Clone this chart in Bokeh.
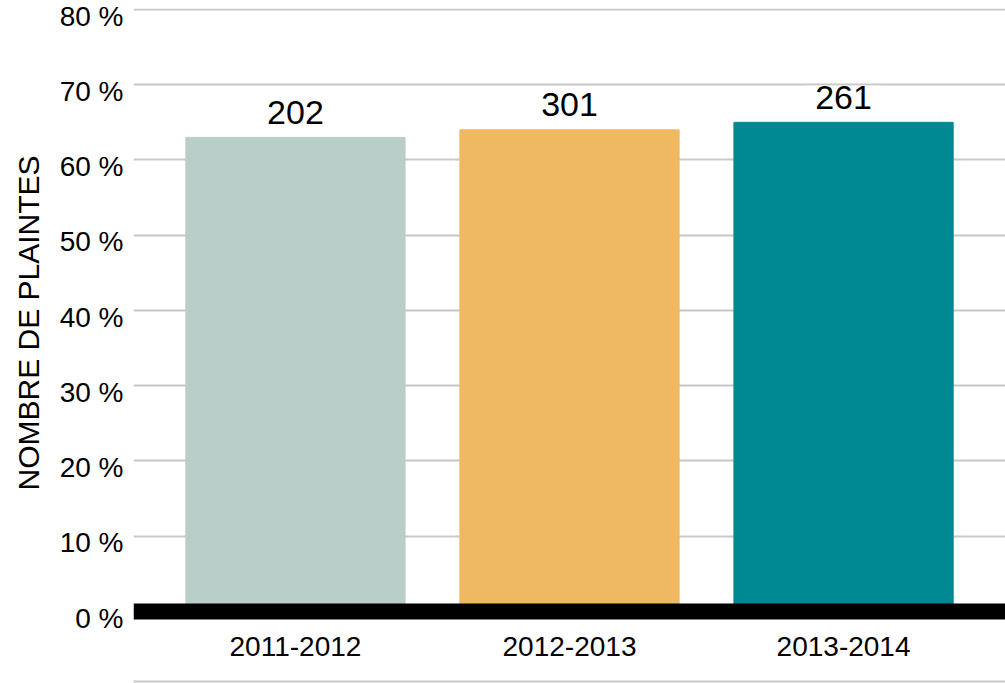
from bokeh.plotting import figure
from bokeh.models import (ColumnDataSource, Range1d, LinearAxis, FixedTicker, Grid,
                          Span, Title, PrintfTickFormatter)
from bokeh.core.properties import value
from bokeh.embed import file_html
from bokeh.resources import INLINE

# ---- data ----
periods = ["2011-2012", "2012-2013", "2013-2014"]
pct_values = [63, 64, 65]
complaints = [202, 301, 261]
bar_colors = ["#B9CDC9", "#EFB961", "#008893"]
y_ticks = [0, 10, 20, 30, 40, 50, 60, 70, 80]
axis_title = "NOMBRE DE PLAINTES"

FONT = "Liberation Sans"
GRID = "#c8c8c8"

idx = list(range(len(periods)))
x0, x1 = -0.591, 2.591
y0, y1 = -9.32, 80.13
label_shift = 0.9
cat_label_y = -4.7

src = ColumnDataSource(dict(
    x=idx, top=pct_values, color=bar_colors,
    count=[str(c) for c in complaints], period=periods,
    lab_y=[cat_label_y] * len(periods),
))

p = figure(width=1005, height=683, x_range=Range1d(x0, x1), y_range=Range1d(y0, y1),
           x_axis_location=None, y_axis_location=None,
           toolbar_location=None, output_backend="svg",
           min_border_left=133, min_border_right=0, min_border_top=8, min_border_bottom=2)
p.center = []
p.outline_line_color = None
p.background_fill_color = "white"
p.border_fill_color = "white"

# horizontal grid
p.add_layout(Grid(dimension=1, ticker=FixedTicker(ticks=y_ticks),
                  grid_line_color=GRID, grid_line_width=2))

# y axis (labels drawn slightly below their gridline)
p.extra_y_ranges = {"lab": Range1d(y0 + label_shift, y1 + label_shift)}
yax = LinearAxis(y_range_name="lab", ticker=FixedTicker(ticks=y_ticks),
                 formatter=PrintfTickFormatter(format="%d %%"),
                 axis_line_color=None, major_tick_line_color=None,
                 minor_tick_line_color=None, major_tick_out=0, major_tick_in=0,
                 major_label_standoff=10,
                 major_label_text_font=FONT, major_label_text_font_size="28px",
                 major_label_text_color="black")
p.add_layout(yax, "left")

# bottom rule
xax = LinearAxis(ticker=FixedTicker(ticks=[]), axis_line_color=GRID, axis_line_width=2,
                 major_tick_line_color=None, minor_tick_line_color=None,
                 major_tick_out=0, major_tick_in=0, major_label_text_font_size="0px",
                 major_label_standoff=0)
p.add_layout(xax, "below")

# axis title
p.add_layout(Title(text=axis_title, align="left", offset=191, standoff=20,
                   vertical_align="top",
                   text_font=FONT, text_font_size="30px", text_font_style="normal",
                   text_color="black"), "left")

# bars
p.vbar(x="x", top="top", bottom=0, width=0.8, source=src,
       fill_color="color", line_color="color")

# baseline
p.add_layout(Span(location=0, dimension="width", line_color="black", line_width=16))

# value labels
p.text(x="x", y="top", text="count", source=src, y_offset=-25,
       text_align="center", text_baseline="alphabetic",
       text_font=value(FONT), text_font_size="34px", text_color="black",
       background_fill_color="white",
       padding=dict(left=10, right=10, top=0, bottom=0))

# category labels
p.text(x="x", y="lab_y", text="period", source=src,
       text_align="center", text_baseline="middle",
       text_font=value(FONT), text_font_size="28px", text_color="black")

open("out.html", "w").write(file_html(p, INLINE))
